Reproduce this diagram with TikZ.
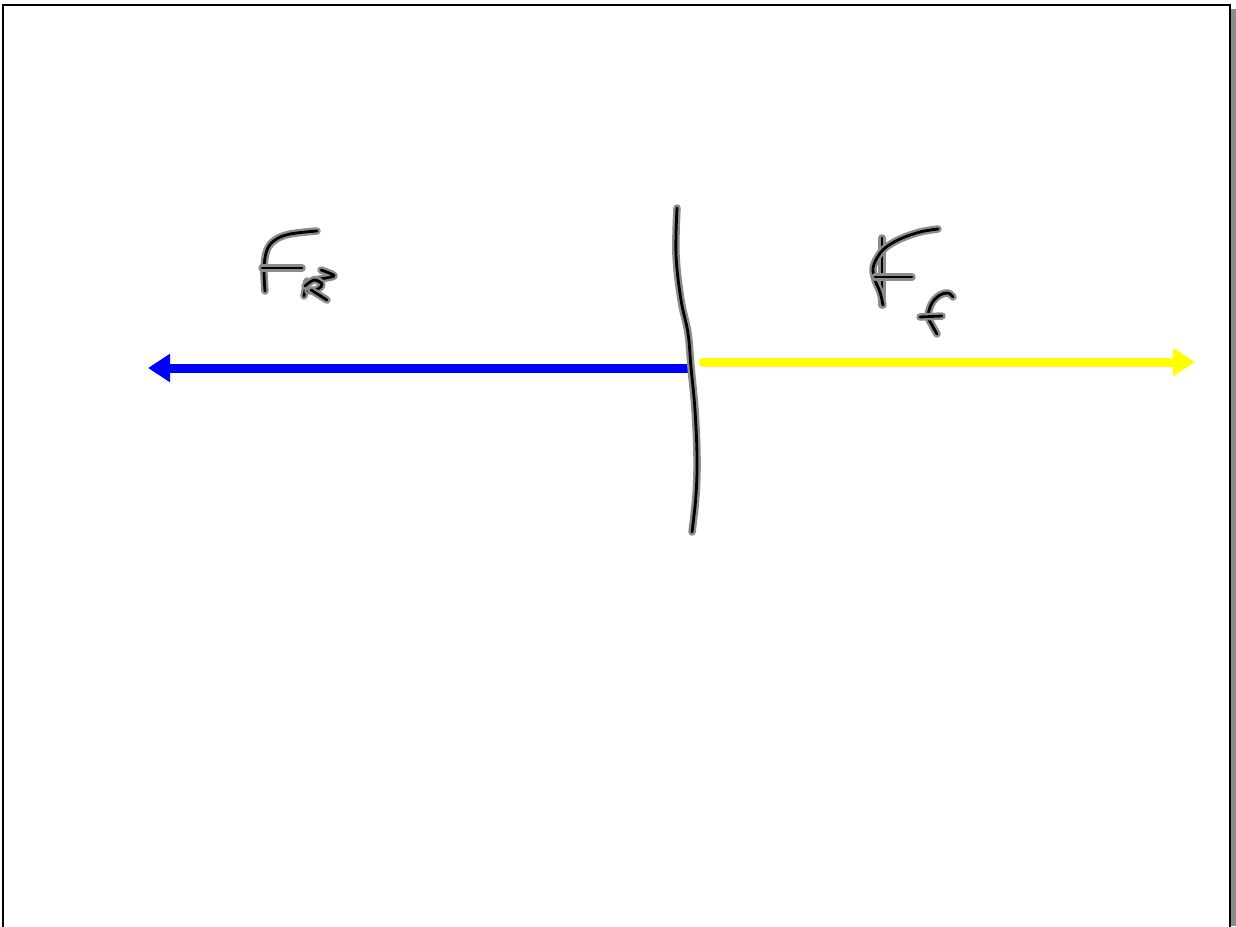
\documentclass[tikz,border=0pt]{standalone}
\usetikzlibrary{arrows.meta}
\definecolor{halo}{rgb}{0.55,0.55,0.55}
\definecolor{pureblue}{rgb}{0,0,1}
\definecolor{pureyellow}{rgb}{1,1,0}
\tikzset{
  ink/.style={draw=black,line width=2.8pt,line cap=round,line join=round},
  inkhalo/.style={draw=halo,line width=7.5pt,line cap=round,line join=round},
  forcearrow/.style={line width=9pt,-{Triangle[length=22pt,width=27pt]}},
}
\newcommand{\penstroke}[1]{\draw[inkhalo] #1; \draw[ink] #1;}
\begin{document}
\begin{tikzpicture}[x=1pt,y=-1pt]
\useasboundingbox (0,0) rectangle (1236,926);
\fill[white] (0,0) rectangle (1236,926);
% frame
\fill[halo] (1231,9) rectangle (1236,926);
\draw[line width=2.5pt] (3,930) -- (3,5) -- (1230,5) -- (1230,930);
% coordinates
\coordinate (bstart) at (690,368);
\coordinate (bend) at (148,368);
\coordinate (ystart) at (703,362);
\coordinate (yend) at (1195,362);
% force arrows
\draw[forcearrow,draw=pureblue,fill=pureblue,line cap=butt] (bstart) -- (bend);
\draw[forcearrow,draw=pureyellow,fill=pureyellow,line cap=round] (ystart) -- (yend);
% vertical boundary line
\penstroke{plot[smooth,tension=0.6] coordinates {(677,208) (676,255) (681,300) (688,333) (691,367) (695,410) (697,457) (696,495) (692,532)}}
% F_R
\penstroke{plot[smooth,tension=0.6] coordinates {(265,291) (264,268) (267,250) (275,240) (290,234) (317,231)}}
\penstroke{(262,268) -- (302,268)}
\penstroke{plot[smooth,tension=0.5] coordinates {(321,270) (334,276) (313,280)}}
\penstroke{(307,281) -- (304,296)}
\penstroke{plot[smooth,tension=0.6] coordinates {(305,286) (314,280) (322,284) (318,289) (308,291)}}
\penstroke{(311,290) -- (327,300)}
% F_f
\penstroke{(882,238) -- (882,305)}
\penstroke{plot[smooth,tension=0.6] coordinates {(938,229) (920,232) (900,239) (885,248) (877,258) (873,268) (875,280) (880,292) (883,305)}}
\penstroke{(875,277) -- (912,277)}
\penstroke{plot[smooth,tension=0.6] coordinates {(953,297) (948,293) (940,295) (932,303) (928,316) (932,325) (937,334)}}
\penstroke{(920,317) -- (942,316)}
\end{tikzpicture}
\end{document}
